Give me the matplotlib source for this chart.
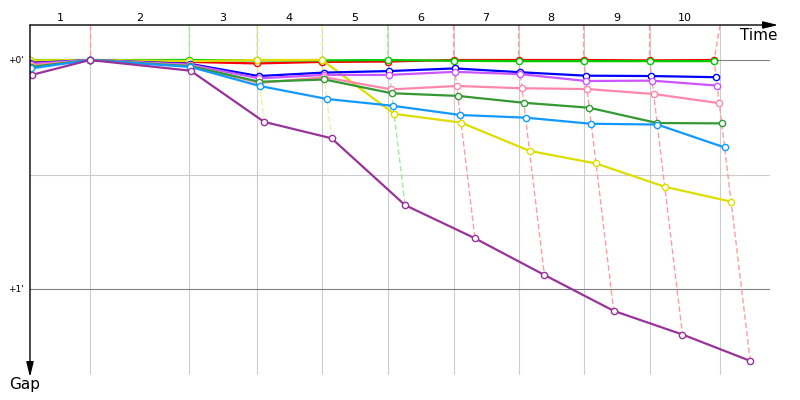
# race gap chart: gap to leader vs elapsed time, one line per driver
import numpy as np
import matplotlib.pyplot as plt
from matplotlib.colors import to_rgb

# leader's elapsed time (s) at the end of each lap, index 0 = start
leader_time = [0, 131, 348, 495, 638, 781, 925, 1067, 1209, 1353, 1494]
# position of the lap marks (s)
lap_marks = [131, 348, 495, 638, 781, 925, 1067, 1209, 1353, 1507]
lap_labels = ['1', '2', '3', '4', '5', '6', '7', '8', '9', '10']

# gap to leader (s) at the start and after each lap
gap_red     = [0.5, 0, 0.5, 0.9, 0.5, 0.4, 0, 0, 0, 0.1, 0]
gap_green   = [0, 0, 0, 0.1, 0.1, 0, 0.2, 0.3, 0.3, 0.3, 0.3]
gap_yellow  = [0.1, 0, 0.3, 0, 0, 14.1, 16.4, 23.8, 27.1, 33.2, 37.1]
gap_blue    = [0.8, 0, 1.0, 4.2, 3.3, 2.9, 2.2, 3.2, 4.1, 4.2, 4.5]
gap_violet  = [1.0, 0, 1.2, 4.8, 3.9, 3.9, 3.1, 3.7, 5.5, 5.4, 6.7]
gap_pink    = [1.4, 0, 1.4, 6.0, 4.5, 7.7, 6.8, 7.4, 7.6, 8.9, 11.3]
gap_dkgreen = [1.8, 0, 1.6, 5.7, 5.1, 8.7, 9.4, 11.2, 12.5, 16.5, 16.6]
gap_ltblue  = [2.2, 0, 1.8, 6.8, 10.2, 12.0, 14.4, 15.1, 16.7, 16.9, 22.9]
gap_purple  = [3.9, 0, 2.8, 16.2, 20.5, 38.0, 46.7, 56.3, 65.7, 71.9, 78.8]

gaps = [gap_red, gap_green, gap_yellow, gap_blue, gap_violet,
        gap_pink, gap_dkgreen, gap_ltblue, gap_purple]
colors = ['#ff0000', '#00cc00', '#dddd00', '#0000ff', '#cc55ff',
          '#ff88aa', '#339933', '#1199ff', '#993399']

y_top, y_bottom = -9.17, 82.5

fig = plt.figure(figsize=(8, 4), dpi=100)
ax = fig.add_axes([30/800, 25/400, 740/800, 350/400])
ax.set_xlim(0, 1616)
ax.set_ylim(y_bottom, y_top)
for s in ax.spines.values():
    s.set_visible(False)
ax.set_xticks([])
ax.set_yticks([])

# grid
for m in lap_marks:
    ax.axvline(m, color='#cccccc', lw=0.8, zorder=0)
ax.axhline(0, color='#808080', lw=0.8, zorder=0)
ax.axhline(30, color='#cccccc', lw=0.8, zorder=0)
ax.axhline(60, color='#808080', lw=0.8, zorder=0)

# dashed lap lines, tinted with the leader's colour
lt = np.array(leader_time)
G = np.array(gaps)
for i in range(1, len(leader_time)):
    lead = int(np.argmin(G[:, i]))
    c = np.array(to_rgb(colors[lead]))
    light = 1 - 0.38 * (1 - c)
    gmax = G[:, i].max()
    ax.plot([lap_marks[i-1], lt[i], lt[i] + gmax], [y_top, 0, gmax],
            color=light, lw=1, ls=(0, (4, 2)), zorder=1)

# drivers
for g, c in zip(gaps, colors):
    g = np.array(g)
    ax.plot(lt + g, g, color=c, lw=1.6, marker='o', ms=4.5,
            mfc='white', mec=c, mew=1, zorder=3)

# axes arrows
ax.annotate('', xy=(1.011, 1), xytext=(0, 1), xycoords='axes fraction',
            arrowprops=dict(arrowstyle='-|>,head_length=0.9,head_width=0.22',
                            color='black', lw=1, shrinkA=0, shrinkB=0),
            annotation_clip=False)
ax.annotate('', xy=(0, -0.006), xytext=(0, 1), xycoords='axes fraction',
            arrowprops=dict(arrowstyle='-|>,head_length=0.9,head_width=0.22',
                            color='black', lw=1, shrinkA=0, shrinkB=0),
            annotation_clip=False)

# lap numbers
edges = [0] + lap_marks
trans = ax.get_xaxis_transform()
for a, b, lab in zip(edges[:-1], edges[1:], lap_labels):
    ax.text((a + b) / 2, 1.0214, lab, transform=trans, ha='center',
            va='center', fontsize=8)

ax.text(1.0095, 0.9714, 'Time', transform=ax.transAxes, ha='right',
        va='center', fontsize=11)
ax.text(-0.0074, -0.028, 'Gap', transform=ax.transAxes, ha='center',
        va='center', fontsize=11)
ax.text(-0.0088, 0, "+0'", transform=ax.get_yaxis_transform(), ha='right',
        va='center', fontsize=6.5)
ax.text(-0.0088, 60, "+1'", transform=ax.get_yaxis_transform(), ha='right',
        va='center', fontsize=6.5)

fig.savefig('out.png', dpi=100)
